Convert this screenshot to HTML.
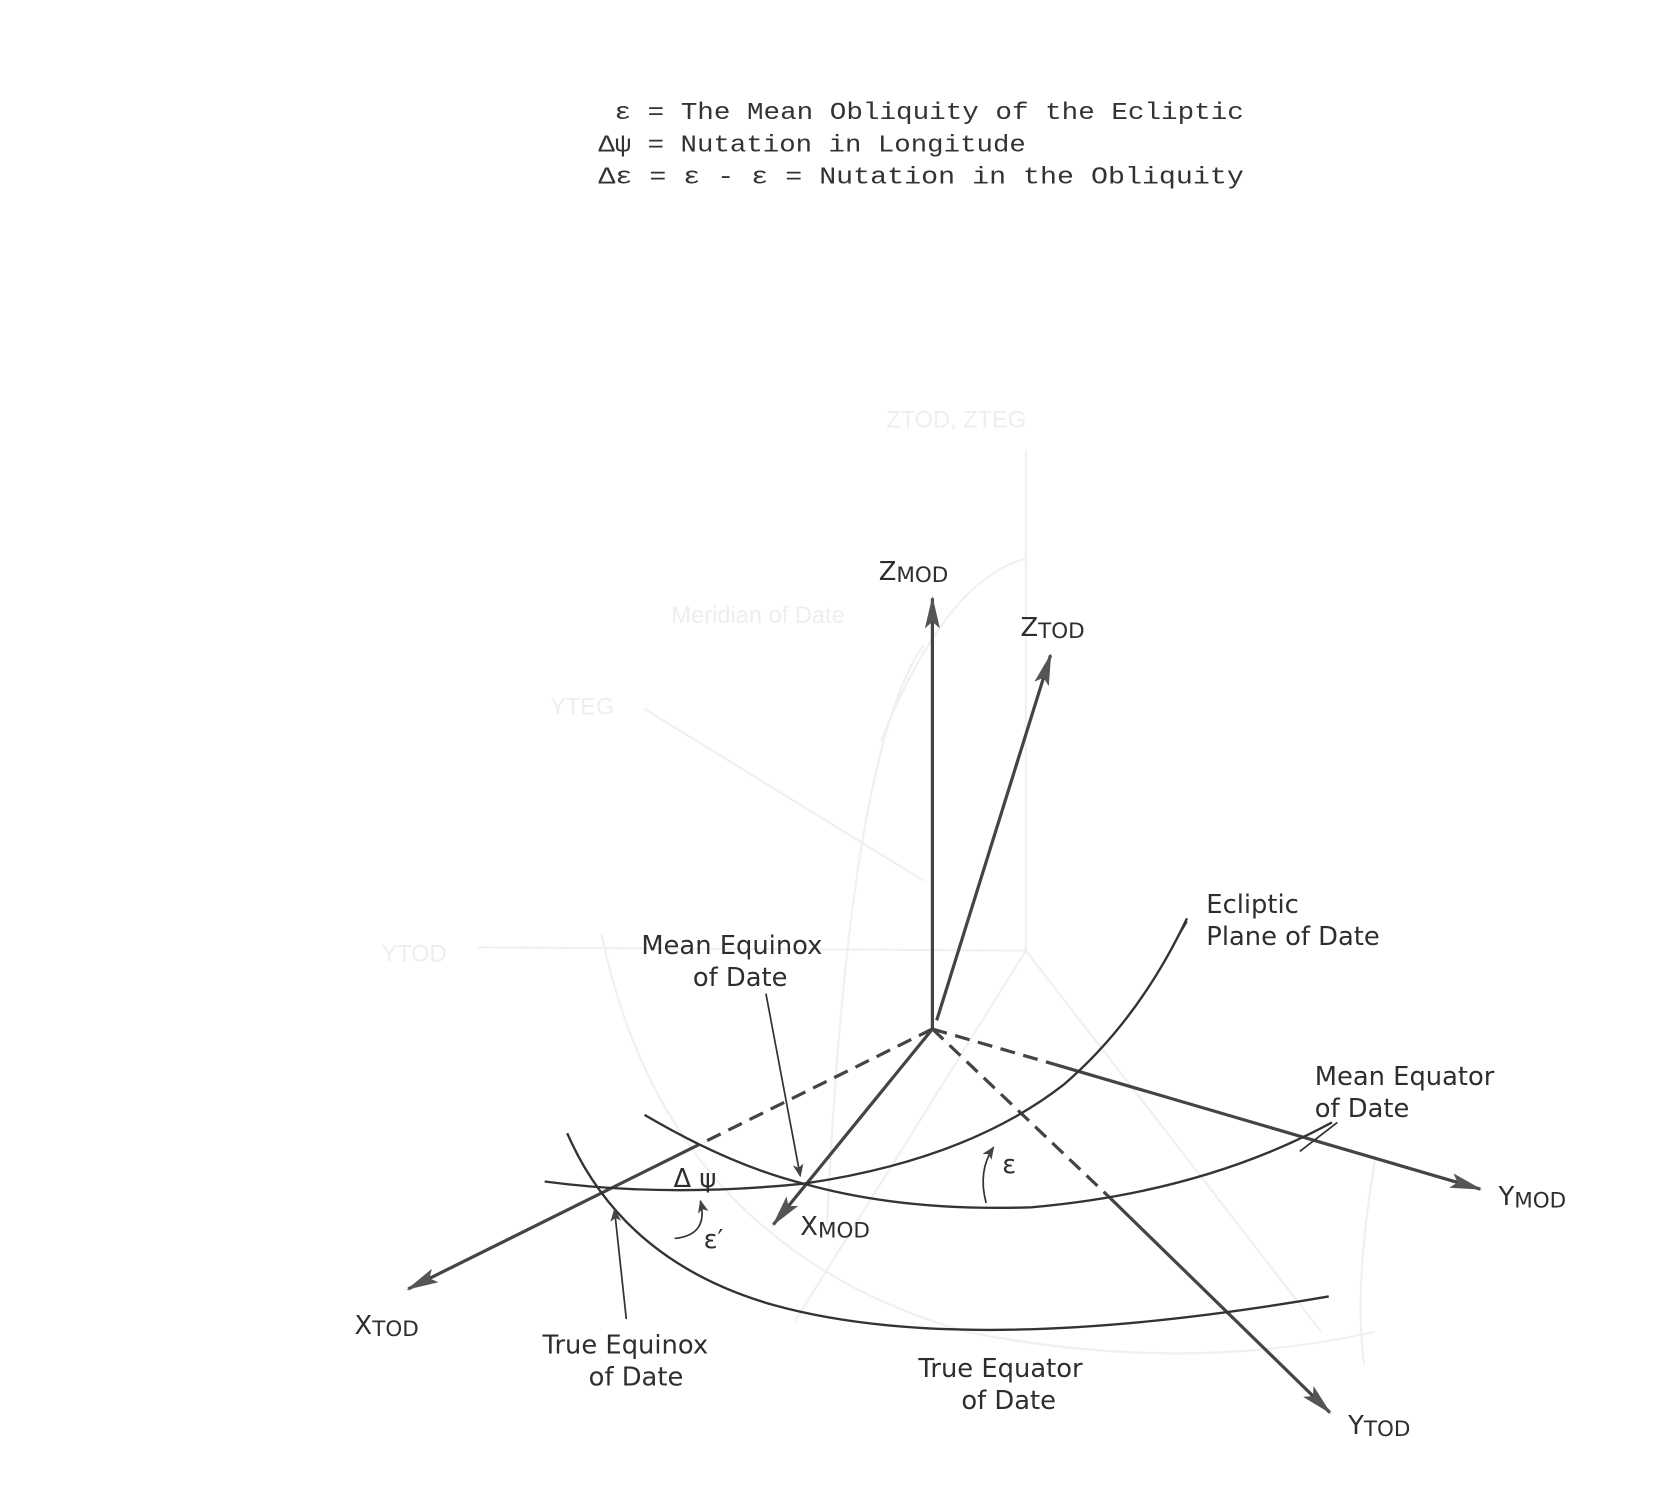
<!DOCTYPE html>
<html><head><meta charset="utf-8"><style>
html,body{margin:0;padding:0;background:#fff;}
svg{display:block;}
.m{font-family:"Liberation Mono",monospace;font-size:22px;fill:#333;}
.s{font-family:"DejaVu Sans","Liberation Sans",sans-serif;font-size:24px;fill:#2e2e2e;}
.g{stroke:#f0f0f0;stroke-width:2;fill:none;}
.gt{font-family:"Liberation Sans",sans-serif;font-size:22px;fill:#eeeeee;}
</style></head><body>
<svg width="1679" height="1493" viewBox="0 0 1563 1390" xmlns="http://www.w3.org/2000/svg">
<defs>
<marker id="a" markerWidth="12" markerHeight="10" refX="11" refY="5" orient="auto" markerUnits="userSpaceOnUse"><path d="M0,0 L12,5 L0,10 L3,5 Z" fill="#444"/></marker>
<marker id="A" markerWidth="30" markerHeight="14" refX="28" refY="7" orient="auto" markerUnits="userSpaceOnUse"><path d="M0,0 L30,7 L0,14 L6,7 Z" fill="#555"/></marker>
</defs>
<rect width="1563" height="1390" fill="#fff"/>
<g class="g">
<line x1="955" y1="885" x2="955" y2="420"/>
<line x1="955" y1="885" x2="445" y2="882"/>
<line x1="860" y1="820" x2="600" y2="660"/>
<line x1="955" y1="885" x2="740" y2="1230"/>
<line x1="955" y1="885" x2="1230" y2="1240"/>
<path d="M820,690 Q880,540 955,520"/>
<path d="M560,870 Q620,1160 900,1240 Q1100,1280 1280,1240"/>
<path d="M770,1140 Q790,700 860,600"/>
<path d="M1280,1080 Q1260,1200 1270,1270"/>
</g>
<text class="gt" x="825" y="398">ZTOD, ZTEG</text>
<text class="gt" x="625" y="580">Meridian of Date</text>
<text class="gt" x="355" y="895">YTOD</text>
<text class="gt" x="512" y="665">YTEG</text>
<text class="m" x="572" y="111" textLength="586" lengthAdjust="spacingAndGlyphs">ε = The Mean Obliquity of the Ecliptic</text>
<text class="m" x="557" y="141" textLength="398" lengthAdjust="spacingAndGlyphs">Δψ = Nutation in Longitude</text>
<text class="m" x="557" y="171" textLength="601" lengthAdjust="spacingAndGlyphs">Δε = ε  - ε = Nutation in the Obliquity</text>
<g stroke="#444" stroke-width="3" fill="none">
<line x1="868" y1="958" x2="868" y2="557" marker-end="url(#A)"/>
<line x1="872" y1="950" x2="978" y2="610" marker-end="url(#A)"/>
<line x1="868" y1="958" x2="720" y2="1140" marker-end="url(#A)"/>
<line x1="982" y1="991" x2="1378" y2="1107" marker-end="url(#A)"/>
<line x1="1030" y1="1112" x2="1238" y2="1315" marker-end="url(#A)"/>
<line x1="650" y1="1066" x2="380" y2="1200" marker-end="url(#A)"/>
<path d="M868,958 L982,991" stroke-dasharray="14,8"/>
<path d="M868,958 L1030,1112" stroke-dasharray="14,8"/>
<path d="M868,958 L650,1066" stroke-dasharray="14,8"/>
</g>
<g stroke="#333" stroke-width="2.2" fill="none">
<path d="M507,1100 Q620,1115 748,1102 Q900,1080 990,1010 Q1060,950 1105,855"/>
<path d="M600,1038 Q680,1085 748,1102 Q840,1128 960,1124 Q1120,1110 1240,1045"/>
<path d="M528,1055 Q580,1175 720,1215 Q900,1265 1237,1207"/>
</g>
<g stroke="#333" stroke-width="1.6" fill="none">
<line x1="713" y1="925" x2="745" y2="1095" marker-end="url(#a)"/>
<line x1="583" y1="1228" x2="572" y2="1126" marker-end="url(#a)"/>
<line x1="1105" y1="858" x2="1092" y2="880"/>
<line x1="1245" y1="1045" x2="1210" y2="1072"/>
<path d="M918,1120 Q910,1090 925,1068" marker-end="url(#a)"/>
<path d="M628,1153 Q660,1150 652,1118" marker-end="url(#a)"/>
</g>
<text class="s" x="818" y="540">Z<tspan font-size="20" dy="2">MOD</tspan></text>
<text class="s" x="950" y="592">Z<tspan font-size="20" dy="2">TOD</tspan></text>
<text class="s" x="745" y="1150">X<tspan font-size="20" dy="2">MOD</tspan></text>
<text class="s" x="1395" y="1122">Y<tspan font-size="20" dy="2">MOD</tspan></text>
<text class="s" x="1255" y="1335">Y<tspan font-size="20" dy="2">TOD</tspan></text>
<text class="s" x="330" y="1242">X<tspan font-size="20" dy="2">TOD</tspan></text>
<text class="s" x="597" y="888">Mean Equinox</text>
<text class="s" x="645" y="918">of Date</text>
<text class="s" x="1123" y="850">Ecliptic</text>
<text class="s" x="1123" y="880">Plane of Date</text>
<text class="s" x="1224" y="1010">Mean Equator</text>
<text class="s" x="1224" y="1040">of Date</text>
<text class="s" x="505" y="1260">True Equinox</text>
<text class="s" x="548" y="1290">of Date</text>
<text class="s" x="855" y="1282">True Equator</text>
<text class="s" x="895" y="1312">of Date</text>
<text class="s" x="627" y="1105" font-size="20">Δ ψ</text>
<text class="s" x="933" y="1092" font-size="20">ε</text>
<text class="s" x="655" y="1162" font-size="20">ε′</text>
</svg>
</body></html>
